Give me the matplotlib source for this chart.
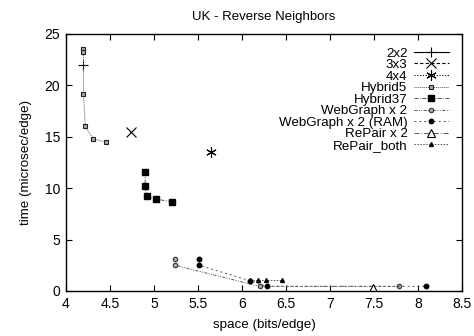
import numpy as np
import matplotlib
matplotlib.use('Agg')
import matplotlib.pyplot as plt

plt.rcParams['font.family'] = ['Liberation Sans', 'DejaVu Sans']

# Data (space bits/edge, time microsec/edge)
x_2x2 = [4.20]
y_2x2 = [22.0]
x_3x3 = [4.74]
y_3x3 = [15.5]
x_4x4 = [5.65]
y_4x4 = [13.5]
x_h5 = [4.20, 4.20, 4.20, 4.22, 4.31, 4.45]
y_h5 = [23.5, 23.2, 19.2, 16.0, 14.8, 14.5]
x_h37 = [4.90, 4.90, 4.92, 5.02, 5.21]
y_h37 = [11.6, 10.2, 9.2, 8.95, 8.65]
x_wg = [5.24, 5.24, 6.20, 7.78]
y_wg = [3.15, 2.5, 0.45, 0.45]
x_wgram = [5.51, 5.51, 6.09, 6.28, 8.09]
y_wgram = [3.15, 2.5, 1.0, 0.45, 0.45]
x_rp = [7.49]
y_rp = [0.25]
x_rpboth = [6.09, 6.18, 6.27, 6.45]
y_rpboth = [1.05, 1.05, 1.05, 1.05]

fig = plt.figure(figsize=(4.74, 3.36), dpi=100)
ax = fig.add_axes([0.139, 0.134, 0.836, 0.765])

ax.plot(x_2x2, y_2x2, color='black', lw=0.8, ls='-', marker='+', ms=7, mew=0.8, label='2x2')
ax.plot(x_3x3, y_3x3, color='black', lw=0.8, ls=(0, (3, 2)), marker='x', ms=6.5, mew=0.8, label='3x3')
ax.plot(x_4x4, y_4x4, color='black', lw=0.8, ls=(0, (1, 1.5)), marker=(6, 2, 0), ms=7.5, mew=0.8, label='4x4')
ax.plot(x_h5, y_h5, color='#555555', lw=0.7, ls=(0, (1, 1)), marker='s', ms=3.5, mfc='#aaaaaa',
        mec='#222222', mew=0.8, label='Hybrid5')
ax.plot(x_h37, y_h37, color='#555555', lw=0.7, ls=(0, (4, 1.5, 1, 1.5)), marker='s', ms=4,
        mfc='black', mec='black', label='Hybrid37')
ax.plot(x_wg, y_wg, color='#555555', lw=0.7, ls=(0, (3, 1.5, 1, 1.5, 1, 1.5)), marker='o', ms=3.2,
        mfc='#aaaaaa', mec='#333333', mew=0.8, label='WebGraph x 2')
ax.plot(x_wgram, y_wgram, color='#555555', lw=0.7, ls=(0, (2, 3)), marker='o', ms=3.2,
        mfc='black', mec='black', label='WebGraph x 2 (RAM)')
ax.plot(x_rp, y_rp, color='#555555', lw=0.7, ls=(0, (5, 2, 1, 2)), marker='^', ms=6,
        mfc='white', mec='black', mew=0.8, label='RePair x 2')
ax.plot(x_rpboth, y_rpboth, color='#555555', lw=0.7, ls=(0, (1.5, 1.5)), marker='^', ms=2.8,
        mfc='black', mec='black', label='RePair_both')

ax.set_xlim(4, 8.5)
ax.set_ylim(0, 25)
ax.set_xticks(np.arange(4, 8.51, 0.5))
ax.set_xticklabels(['4', '4.5', '5', '5.5', '6', '6.5', '7', '7.5', '8', '8.5'])
ax.set_yticks([0, 5, 10, 15, 20, 25])
ax.tick_params(direction='in', top=True, right=True, labelsize=10, length=4, width=0.8, pad=4)
for s in ax.spines.values():
    s.set_linewidth(1.0)

ax.set_title('UK - Reverse Neighbors', fontsize=9.5, pad=10)
ax.set_xlabel('space (bits/edge)', fontsize=9.6, labelpad=6)
ax.set_ylabel('time (microsec/edge)', fontsize=9.6, labelpad=9)

leg = ax.legend(loc='upper right', markerfirst=False, alignment='right', frameon=False,
                fontsize=9.6, labelspacing=-0.06, handlelength=2.6, handletextpad=0.5,
                borderaxespad=0.8, borderpad=0.2)

fig.savefig('out.png', dpi=100)
